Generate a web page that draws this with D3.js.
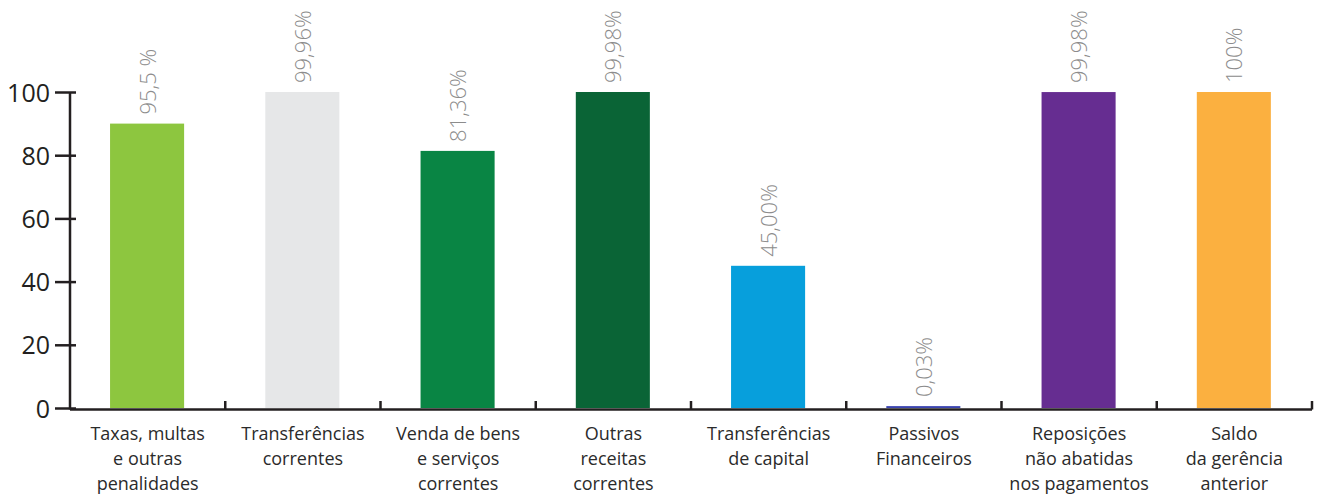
<!DOCTYPE html>
<html>
<head>
<meta charset="utf-8">
<script src="https://cdn.jsdelivr.net/npm/d3@7"></script>
<style>
  html, body { margin: 0; padding: 0; background: #fff; }
  svg { display: block; font-family: "Open Sans", "DejaVu Sans", sans-serif; }
</style>
</head>
<body>
<svg id="chart" width="1317" height="495"></svg>
<script>
const categories = [
  "Taxas, multas\ne outras\npenalidades",
  "Transferências\ncorrentes",
  "Venda de bens\ne serviços\ncorrentes",
  "Outras\nreceitas\ncorrentes",
  "Transferências\nde capital",
  "Passivos\nFinanceiros",
  "Reposições\nnão abatidas\nnos pagamentos",
  "Saldo\nda gerência\nanterior"
];
const values = [90, 100, 81.36, 100, 45, 0.6, 99.98, 100];
const valueLabels = ["95,5 %", "99,96%", "81,36%", "99,98%", "45,00%", "0,03%", "99,98%", "100%"];
const colors = ["#8dc63f", "#e6e7e8", "#098544", "#0a6436", "#079fdc", "#3b45b0", "#662d91", "#fbb040"];
const yTicks = [0, 20, 40, 60, 80, 100];

const svg = d3.select("#chart");
const x = d3.scaleBand().domain(categories).range([70, 1312]).padding(0);
const y = d3.scaleLinear().domain([0, 100]).range([408, 92]);
const bw = x.bandwidth();

// bars
svg.append("g").selectAll("rect").data(categories).join("rect")
  .attr("x", d => x(d) + bw * 0.258)
  .attr("width", bw * 0.477)
  .attr("y", (d, i) => y(values[i]))
  .attr("height", (d, i) => y(0) - y(values[i]))
  .attr("fill", (d, i) => colors[i]);

// y axis
const yAxis = svg.append("g").attr("transform", "translate(70,0)")
  .call(d3.axisLeft(y).tickValues(yTicks).tickSize(15).tickPadding(5).tickFormat(d3.format("d")))
  .attr("font-family", null);
yAxis.select(".domain").attr("d", `M0,${y(100)}V${y(0) + 1.5}`).attr("stroke", "#231f20").attr("stroke-width", 2.5);
yAxis.selectAll(".tick line").attr("x1", 6).attr("x2", -15).attr("stroke", "#231f20").attr("stroke-width", 2.5);
yAxis.selectAll(".tick text").attr("fill", "#231f20").style("font-size", "25px").attr("dy", "0.36em");

// x axis baseline
svg.append("line")
  .attr("x1", x.range()[0]).attr("x2", x.range()[1])
  .attr("y1", y(0) + 1.5).attr("y2", y(0) + 1.5)
  .attr("stroke", "#231f20").attr("stroke-width", 2.5);

// x ticks at band boundaries
svg.append("g").selectAll("line").data(categories).join("line")
  .attr("x1", d => x(d) + bw).attr("x2", d => x(d) + bw)
  .attr("y1", y(0) + 1.5).attr("y2", y(0) - 7)
  .attr("stroke", "#231f20").attr("stroke-width", 2.5);

// value labels (rotated)
svg.append("g").selectAll("text").data(categories).join("text")
  .attr("transform", (d, i) => `translate(${x(d) + bw / 2},${y(values[i]) - 9}) rotate(-90)`)
  .attr("dy", "0.36em")
  .attr("text-anchor", "start")
  .attr("fill", "#8c8c8c")
  .style("font-size", "22px")
  .style("font-weight", 300)
  .text((d, i) => valueLabels[i]);

// category labels
const cat = svg.append("g").selectAll("text").data(categories).join("text")
  .attr("x", d => x(d) + bw / 2)
  .attr("y", 440)
  .attr("text-anchor", "middle")
  .attr("fill", "#2b2b2b")
  .style("font-size", "18px");
cat.selectAll("tspan").data(d => d.split("\n")).join("tspan")
  .attr("x", function () { return d3.select(this.parentNode).attr("x"); })
  .attr("dy", (d, i) => i === 0 ? 0 : 25)
  .text(d => d);
</script>
</body>
</html>
